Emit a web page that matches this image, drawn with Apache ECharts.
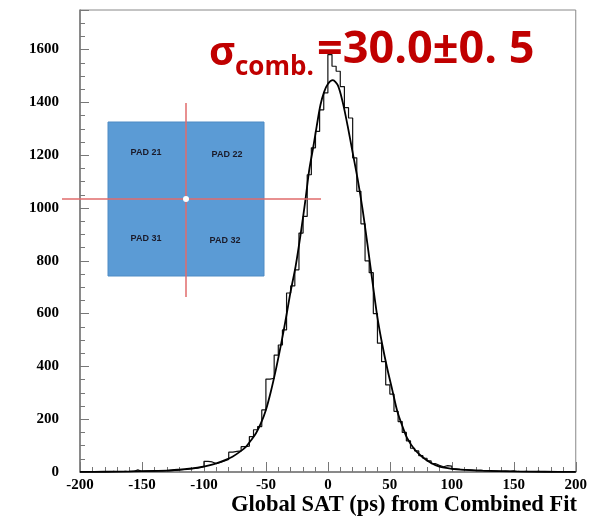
<!DOCTYPE html>
<html>
<head>
<meta charset="utf-8">
<script src="https://cdn.jsdelivr.net/npm/echarts@6/dist/echarts.min.js"></script>
<style>
html,body{margin:0;padding:0;background:#fff;}
#chart{width:590px;height:517px;}
</style>
</head>
<body>
<div id="chart"></div>
<script>
// Histogram binning (x axis categories)
const binStart = -200;
const binWidth = 400 / 120;
// Histogram counts per bin (120 bins from -200 to 200 ps)
const counts = [
  0,1,0,0,1,1,0,2,1,1,
  2,1,2,8,2,3,3,3,4,4,
  5,5,6,7,9,10,12,14,17,20,
  40,38,32,36,42,48,75,78,80,96,
  98,134,160,172,235,352,355,443,481,538,
  678,705,766,905,968,1126,1228,1290,1372,1436,
  1581,1537,1518,1460,1380,1341,1190,1063,940,800,
  755,600,488,418,330,295,230,191,150,118,
  90,80,62,52,42,32,25,20,24,22,
  12,10,9,8,7,5,6,4,4,3,
  3,2,3,2,4,2,1,2,1,1,
  2,1,1,0,1,1,0,1,1,0
];
// Fit curve sampled points
const fitX = [-200,-180,-160,-140,-130,-120,-110,-103,-95,-90,-83,-77,-70,-66,-62,-58,-54,-50,-46,-42,-39,-36,-33,-30,-26,-22,-18,-15,-12,-9,-6,-3,0,4,8,12,16,20,24,28,32,36,40,44,48,52,56,60,64,70,76,83,90,100,111,125,150,175,200];
const fitY = [0.3,1,2,4,5,9,14,18,26,33,45,58,80,96,120,147,185,235,305,387,455,527,605,685,780,900,1035,1145,1225,1310,1390,1440,1470,1484,1465,1400,1310,1210,1110,995,860,720,585,480,390,310,230,175,128,85,58,35,20,12,8,5,2,1,0.5];
// Axis tick values
const xTicks = [-200,-150,-100,-50,0,50,100,150,200];
const yTicks = [0,200,400,600,800,1000,1200,1400,1600];

const histData = counts.map((c, i) => [binStart + i * binWidth, c]);
histData.push([binStart + counts.length * binWidth, counts[counts.length - 1]]);
const fitData = fitX.map((x, i) => [x, fitY[i]]);

const chart = echarts.init(document.getElementById('chart'), null, {renderer: 'canvas'});
const labelFont = {fontFamily: 'Liberation Serif', fontWeight: 'bold', fontSize: 15, color: '#000'};
chart.setOption({
  animation: false,
  backgroundColor: '#fff',
  grid: {left: 80, right: 13, top: 10, bottom: 45, show: true, borderColor: '#888', borderWidth: 1, containLabel: false},
  xAxis: {
    type: 'value', min: -200, max: 200, interval: 50,
    axisLine: {show: true, onZero: false, lineStyle: {color: '#777', width: 1.5}},
    axisTick: {show: true, inside: true, length: 10, lineStyle: {color: '#777'}},
    minorTick: {show: true, splitNumber: 5, length: 5, lineStyle: {color: '#777'}},
    splitLine: {show: false},
    axisLabel: Object.assign({margin: 6, formatter: v => xTicks.includes(v) ? String(v) : ''}, labelFont)
  },
  yAxis: {
    type: 'value', min: 0, max: 1750, interval: 200,
    axisLine: {show: true, onZero: false, lineStyle: {color: '#777', width: 1.5}},
    axisTick: {show: true, inside: true, length: 9, lineStyle: {color: '#777'}},
    minorTick: {show: true, splitNumber: 4, length: 5, lineStyle: {color: '#777'}},
    splitLine: {show: false},
    axisLabel: Object.assign({margin: 21, showMaxLabel: false, formatter: v => yTicks.includes(v) ? String(v) : ''}, labelFont)
  },
  series: [
    {type: 'line', step: 'end', data: histData, symbol: 'none', lineStyle: {color: '#111', width: 1.2}, z: 3},
    {type: 'line', smooth: 0.3, data: fitData, symbol: 'none', lineStyle: {color: '#000', width: 1.8}, z: 4}
  ],
  graphic: [
    {type: 'rect', shape: {x: 108, y: 122, width: 156, height: 154}, style: {fill: '#5B9BD5', stroke: '#4F8BC4', lineWidth: 1}, z: 10},
    {type: 'text', x: 146, y: 153, style: {text: 'PAD 21', fontFamily: 'Liberation Sans', fontWeight: 'bold', fontSize: 9, fill: '#1b1b2a', align: 'center', verticalAlign: 'middle'}, z: 11},
    {type: 'text', x: 227, y: 155, style: {text: 'PAD 22', fontFamily: 'Liberation Sans', fontWeight: 'bold', fontSize: 9, fill: '#1b1b2a', align: 'center', verticalAlign: 'middle'}, z: 11},
    {type: 'text', x: 146, y: 239, style: {text: 'PAD 31', fontFamily: 'Liberation Sans', fontWeight: 'bold', fontSize: 9, fill: '#1b1b2a', align: 'center', verticalAlign: 'middle'}, z: 11},
    {type: 'text', x: 225, y: 241, style: {text: 'PAD 32', fontFamily: 'Liberation Sans', fontWeight: 'bold', fontSize: 9, fill: '#1b1b2a', align: 'center', verticalAlign: 'middle'}, z: 11},
    {type: 'line', shape: {x1: 62, y1: 199, x2: 321, y2: 199}, style: {stroke: '#E06B6B', lineWidth: 1.5}, z: 12},
    {type: 'line', shape: {x1: 186, y1: 103, x2: 186, y2: 297}, style: {stroke: '#E06B6B', lineWidth: 1.5}, z: 12},
    {type: 'circle', shape: {cx: 186, cy: 199, r: 3}, style: {fill: '#fff'}, z: 13},
    {type: 'text', x: 209, y: 54, style: {text: 'σ', fontFamily: 'Open Sans', fontWeight: 'bold', fontSize: 40, fill: '#C00000', align: 'left', verticalAlign: 'middle'}, z: 14},
    {type: 'text', x: 235, y: 68, style: {text: 'comb.', fontFamily: 'Open Sans', fontWeight: 'bold', fontSize: 26, fill: '#C00000', align: 'left', verticalAlign: 'middle'}, z: 14},
    {type: 'text', x: 317, y: 50, style: {text: '=30.0±0. 5', fontFamily: 'Open Sans', fontWeight: 'bold', fontSize: 45, fill: '#C00000', align: 'left', verticalAlign: 'middle'}, z: 14},
    {type: 'text', x: 577, y: 505, style: {text: 'Global SAT (ps) from Combined Fit', fontFamily: 'Liberation Serif', fontWeight: 'bold', fontSize: 22.5, fill: '#000', align: 'right', verticalAlign: 'middle'}, z: 14}
  ]
});
</script>
</body>
</html>
